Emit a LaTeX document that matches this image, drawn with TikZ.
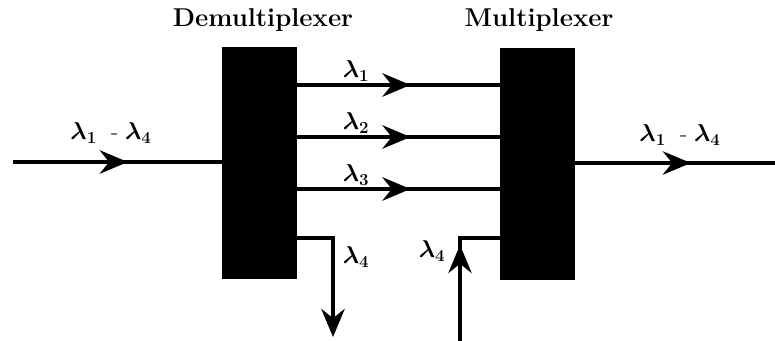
\documentclass[tikz,border=0pt]{standalone}
\usepackage{amsmath,amssymb,bm}
\usepackage{tikz}
\usetikzlibrary{arrows.meta,positioning,calc,decorations.markings}
\newcommand{\lam}[1]{\ensuremath{\bm{\lambda}_{\mathbf{#1}}}}

\begin{document}
\begin{tikzpicture}[x=0.03cm,y=-0.03cm,
  box/.style={rectangle,fill=black,draw=black,inner sep=0pt,
              minimum width=2.22cm,minimum height=6.93cm},
  fib/.style={line width=3pt},
  midarr/.style={fib,postaction={decorate},decoration={markings,
              mark=at position #1 with {\arrow{Stealth[length=24pt,width=20pt,inset=8pt]}}}},
  endarr/.style={fib,-{Stealth[length=24pt,width=20pt,inset=8pt]}},
  ttl/.style={font=\fontsize{22}{26}\selectfont\bfseries},
  lbl/.style={font=\fontsize{20}{24}\selectfont,inner sep=1pt}]
\useasboundingbox (0,0) rectangle (775,341);
%% ── Boxes ─────────────────────────────────────────────────────────────
\node[box](demux) at (259,162.5) {};
\node[box](mux) at (537.5,163.5) {};
\node[ttl](demuxttl) at (263,20) {Demultiplexer};
\node[ttl](muxttl) at (539,20) {Multiplexer};
%% ── Input and output ──────────────────────────────────────────────────
\coordinate (in) at (13,162);
\coordinate (out) at (775,163);
\draw[midarr=0.55] (in) -- (in -| demux.west);
\draw[midarr=0.58] (out -| mux.east) -- (out);
\node[lbl](inlbl) at (111,133) {\lam{1}\ \ - \lam{4}};
\node[lbl](outlbl) at (680,135) {\lam{1}\ \ - \lam{4}};
%% ── Channels 1 to 3 ───────────────────────────────────────────────────
\foreach \i/\y in {1/85,2/137,3/189}{
  \coordinate (ch\i) at (296,\y);
  \draw[midarr=0.56] (ch\i -| demux.east) -- (ch\i -| mux.west);
  \node[lbl](chlbl\i) at (356,\y-14) {\lam{\i}};
}
%% ── Channel 4: dropped and added ──────────────────────────────────────
\coordinate (drop) at (333,337);
\coordinate (add) at (460,341);
\draw[endarr] (demux.east |- 0,238) -| (drop);
\draw[midarr=0.67] (add) |- (mux.west |- 0,238);
\node[lbl](droplbl) at (356,257) {\lam{4}};
\node[lbl](addlbl) at (432,251) {\lam{4}};
\end{tikzpicture}
\end{document}
